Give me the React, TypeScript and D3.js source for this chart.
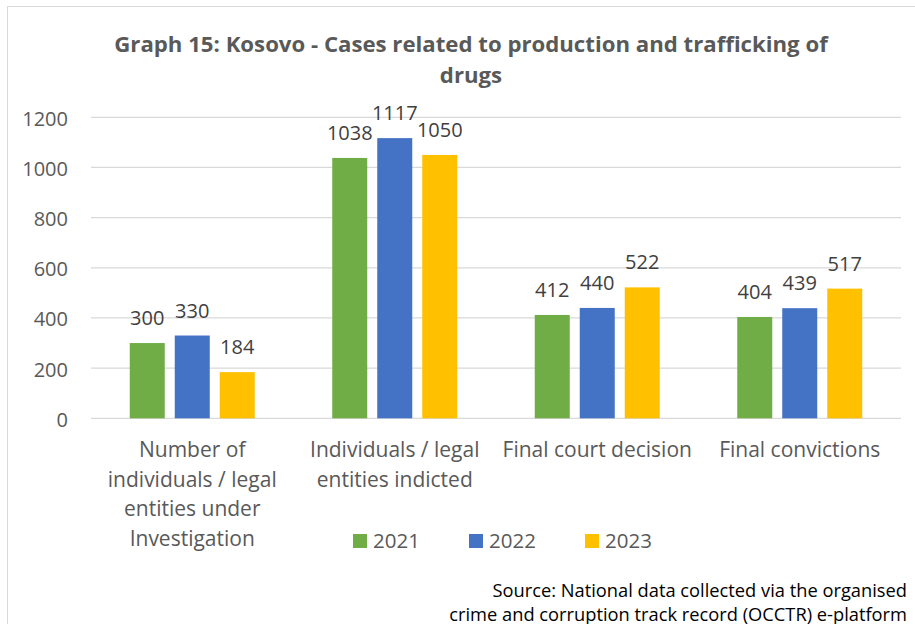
import React from "react";
import * as d3 from "d3";

const categories = [
  "Number of\nindividuals / legal\nentities under\nInvestigation",
  "Individuals / legal\nentities indicted",
  "Final court decision",
  "Final convictions",
];
const years = ["2021", "2022", "2023"];
const values2021 = [300, 1038, 412, 404];
const values2022 = [330, 1117, 440, 439];
const values2023 = [184, 1050, 522, 517];
const yTicks = [0, 200, 400, 600, 800, 1000, 1200];
const colors = ["#70AD47", "#4472C4", "#FFC000"];

const titleLines = [
  "Graph 15: Kosovo - Cases related to production and trafficking of",
  "drugs",
];
const sourceLines = [
  "Source: National data collected via the organised",
  "crime and corruption track record (OCCTR) e-platform",
];

const W = 915;
const H = 624;
const font = "'Open Sans', sans-serif";

const App = () => {
  const series = [values2021, values2022, values2023];

  const x0 = d3.scaleBand().domain(categories).range([91, 901]);
  const bw = x0.bandwidth();
  // bars are 35px wide with 10px gaps
  const x1 = d3
    .scaleBand()
    .domain(years)
    .range([bw / 2 - 62.5, bw / 2 + 62.5])
    .paddingInner(10 / 45);
  const y = d3.scaleLinear().domain([0, 1200]).range([418.3, 117.3]);

  return (
    <svg
      width={W}
      height={H}
      style={{ position: "absolute", left: 0, top: 0, background: "#fff" }}
      fontFamily={font}
    >
      <rect x={7.5} y={6.5} width={1000} height={1000} fill="#fff" stroke="#D9D9D9" />

      {/* title */}
      {titleLines.map((t, i) => (
        <text
          key={i}
          x={471}
          y={52 + i * 31}
          textAnchor="middle"
          fontSize={22.2}
          fontWeight="bold"
          fill="#595959"
        >
          {t}
        </text>
      ))}

      {/* gridlines + y labels */}
      {yTicks.map((t) => (
        <g key={t}>
          <line x1={91} x2={901} y1={y(t)} y2={y(t)} stroke="#D9D9D9" strokeWidth={1.3} />
          <text x={68} y={y(t) + 8.5} textAnchor="end" fontSize={20} fill="#595959">
            {t}
          </text>
        </g>
      ))}

      {/* bars */}
      {categories.map((c, ci) => (
        <g key={c} transform={`translate(${x0(c)},0)`}>
          {years.map((yr, si) => {
            const v = series[si][ci];
            const bx = x1(yr) as number;
            return (
              <g key={yr}>
                <rect
                  x={bx}
                  y={y(v)}
                  width={x1.bandwidth()}
                  height={y(0) - y(v)}
                  fill={colors[si]}
                />
                <text
                  x={bx + x1.bandwidth() / 2}
                  y={y(v) - 18}
                  textAnchor="middle"
                  fontSize={20}
                  fill="#404040"
                >
                  {v}
                </text>
              </g>
            );
          })}
        </g>
      ))}

      {/* category labels */}
      {categories.map((c) => (
        <text
          key={c}
          x={(x0(c) as number) + bw / 2}
          textAnchor="middle"
          fontSize={21}
          fill="#595959"
        >
          {c.split("\n").map((line, li) => (
            <tspan key={li} x={(x0(c) as number) + bw / 2} y={457 + li * 29.5}>
              {line}
            </tspan>
          ))}
        </text>
      ))}

      {/* legend */}
      {years.map((yr, i) => (
        <g key={yr} transform={`translate(${353 + i * 116},534)`}>
          <rect width={14} height={14} fill={colors[i]} />
          <text x={20} y={14} fontSize={20.5} fill="#595959">
            {yr}
          </text>
        </g>
      ))}

      {/* source */}
      {sourceLines.map((t, i) => (
        <text key={i} x={907} y={597 + i * 24} textAnchor="end" fontSize={18.3} fill="#000">
          {t}
        </text>
      ))}
    </svg>
  );
};

export default App;
